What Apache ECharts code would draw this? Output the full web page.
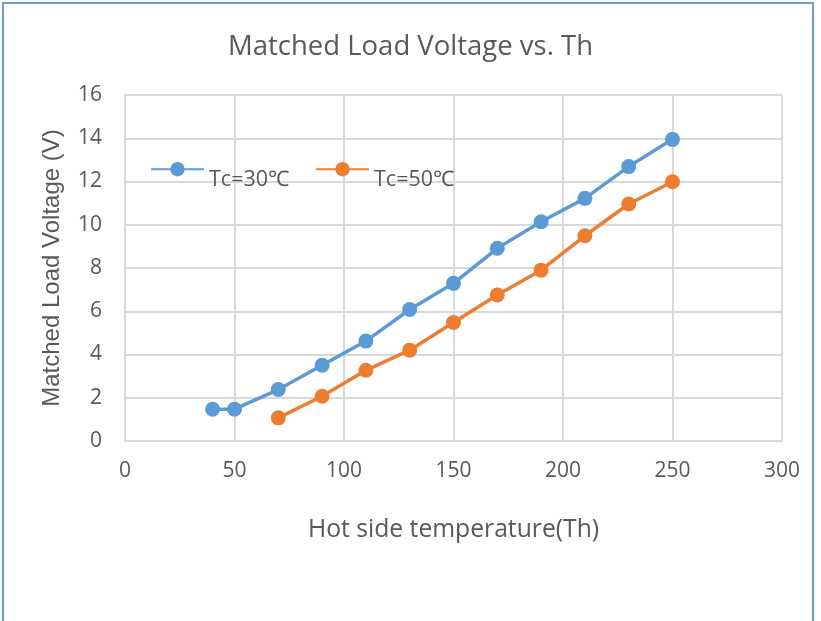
<!DOCTYPE html>
<html>
<head>
<meta charset="utf-8">
<script src="https://cdn.jsdelivr.net/npm/echarts@6/dist/echarts.min.js"></script>
<style>
  html, body { margin: 0; padding: 0; background: #fff; }
  #frame { position: absolute; left: 2px; top: 2px; width: 812px; height: 700px; border: 2px solid #6A9FD6; box-sizing: border-box; }
  #chart { position: absolute; left: 0; top: 0; width: 821px; height: 621px; }
</style>
</head>
<body>
<div id="frame"></div>
<div id="chart"></div>
<script>
// hot side temperature (Th)
const thTc30 = [40, 50, 70, 90, 110, 130, 150, 170, 190, 210, 230, 250];
const vTc30 = [1.47, 1.47, 2.38, 3.5, 4.62, 6.08, 7.29, 8.91, 10.14, 11.22, 12.69, 13.95];
const thTc50 = [70, 90, 110, 130, 150, 170, 190, 210, 230, 250];
const vTc50 = [1.07, 2.07, 3.27, 4.2, 5.48, 6.75, 7.9, 9.49, 10.96, 11.99];
const seriesNames = ['Tc=30℃', 'Tc=50℃'];

let textColor = '#595959';
let fontName = 'Open Sans';

const chart = echarts.init(document.getElementById('chart'), null, { renderer: 'canvas' });

function zip(xs, ys) {
  return xs.map((x, i) => [x, ys[i]]);
}

function getLine(name, data, color) {
  return {
    name,
    type: 'line',
    data,
    symbol: 'circle',
    symbolSize: 15,
    itemStyle: { color },
    lineStyle: { color, width: 3.5 },
    animation: false
  };
}

chart.setOption({
  title: {
    text: 'Matched Load Voltage vs. Th',
    left: 'center',
    top: 28,
    textStyle: { color: textColor, fontFamily: fontName, fontSize: 27.5, fontWeight: 'normal' }
  },
  grid: { left: 125, right: 39, top: 95, bottom: 180 },
  legend: {
    left: 150,
    top: 162,
    padding: 0,
    itemWidth: 53,
    itemHeight: 18,
    itemGap: 26,
    formatter: '{t|{name}}',
    textStyle: {
      rich: {
        t: { color: textColor, fontFamily: fontName, fontSize: 21.5, padding: [22, 0, 0, 0] }
      }
    },
    data: seriesNames
  },
  xAxis: {
    type: 'value',
    min: 0, max: 300, interval: 50,
    name: 'Hot side temperature(Th)',
    nameLocation: 'middle',
    nameGap: 76,
    nameTextStyle: { color: textColor, fontFamily: fontName, fontSize: 24.7 },
    axisLabel: { color: textColor, fontFamily: fontName, fontSize: 21, margin: 20 },
    axisLine: { show: true, lineStyle: { color: '#D9D9D9', width: 2 } },
    axisTick: { show: false },
    splitLine: { show: true, lineStyle: { color: '#D9D9D9', width: 2 } }
  },
  yAxis: {
    type: 'value',
    min: 0, max: 16, interval: 2,
    name: 'Matched Load Voltage (V)',
    nameLocation: 'middle',
    nameGap: 61,
    nameTextStyle: { color: textColor, fontFamily: 'Liberation Sans', fontSize: 24 },
    axisLabel: { color: textColor, fontFamily: fontName, fontSize: 21, margin: 23 },
    axisLine: { show: true, lineStyle: { color: '#D9D9D9', width: 2 } },
    axisTick: { show: false },
    splitLine: { show: true, lineStyle: { color: '#D9D9D9', width: 2 } }
  },
  series: [
    getLine(seriesNames[0], zip(thTc30, vTc30), '#5B9BD5'),
    getLine(seriesNames[1], zip(thTc50, vTc50), '#ED7D31')
  ]
});
</script>
</body>
</html>
